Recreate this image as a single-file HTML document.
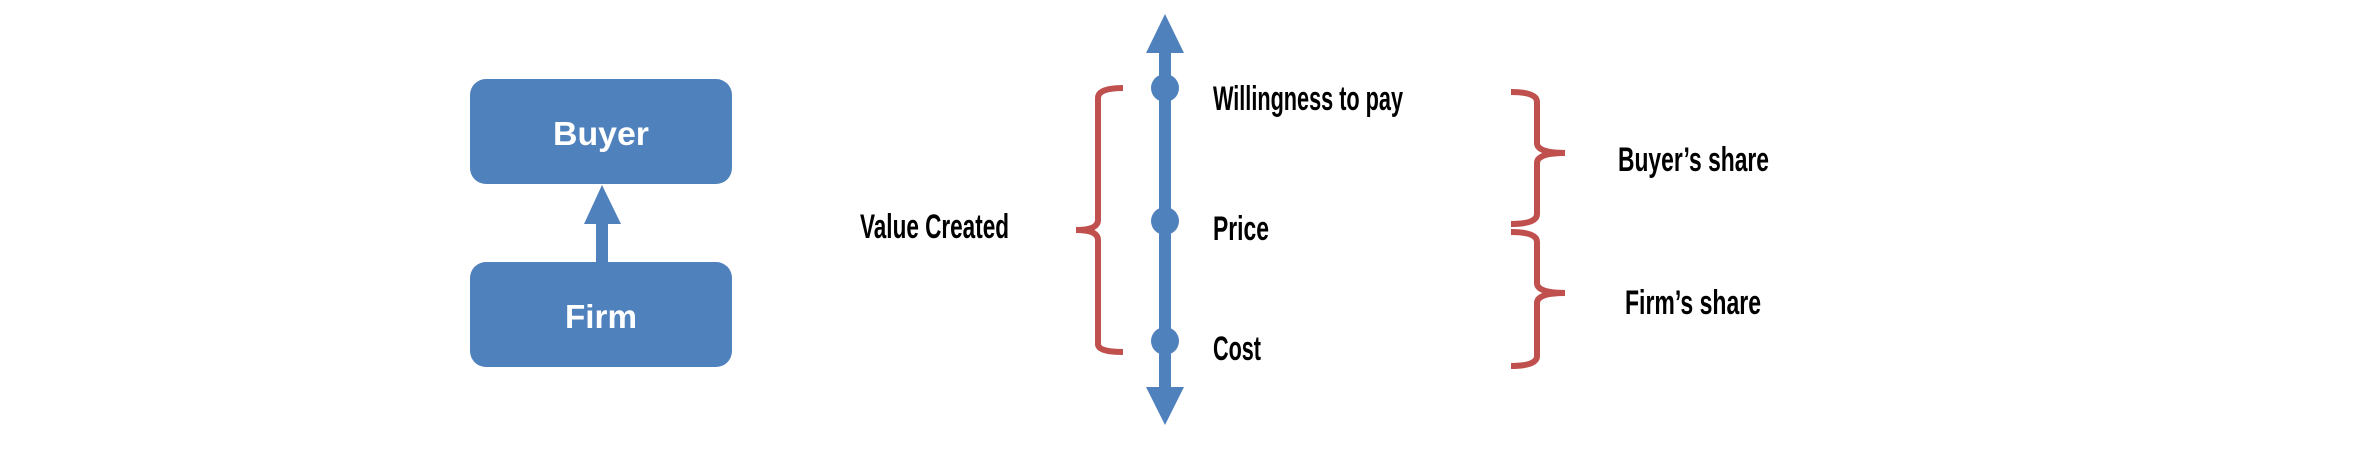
<!DOCTYPE html>
<html><head><meta charset="utf-8"><style>
html,body{margin:0;padding:0;background:#fff;width:2370px;height:450px;overflow:hidden}
svg text{font-family:"Liberation Sans Narrow","Liberation Sans",sans-serif;font-weight:bold}
</style></head><body>
<svg width="2370" height="450" viewBox="0 0 2370 450" xmlns="http://www.w3.org/2000/svg">
<g>
<rect x="470" y="79" width="262" height="105" rx="16" fill="#4f81bd"/>
<text x="601" y="145" fill="#fff" font-size="33" text-anchor="middle" textLength="96" lengthAdjust="spacingAndGlyphs">Buyer</text>
</g>
<g>
<rect x="470" y="262" width="262" height="105" rx="16" fill="#4f81bd"/>
<text x="601" y="328" fill="#fff" font-size="33" text-anchor="middle" textLength="72" lengthAdjust="spacingAndGlyphs">Firm</text>
</g>
<g>
<rect x="596" y="220" width="12" height="43" fill="#4f81bd"/>
<polygon points="602,185 584,224 621,224" fill="#4f81bd"/>
</g>
<g>
<rect x="1159" y="50" width="12" height="340" fill="#4f81bd"/>
<polygon points="1165,14 1146,53 1184,53" fill="#4f81bd"/>
<polygon points="1165,425 1146,387 1184,387" fill="#4f81bd"/>
<circle cx="1165" cy="88" r="14" fill="#4f81bd"/>
<circle cx="1165" cy="221" r="14" fill="#4f81bd"/>
<circle cx="1165" cy="341" r="14" fill="#4f81bd"/>
</g>
<text x="1213" y="110" font-size="34" textLength="190" lengthAdjust="spacingAndGlyphs">Willingness to pay</text>
<text x="1213" y="240" font-size="34" textLength="56" lengthAdjust="spacingAndGlyphs">Price</text>
<text x="1213" y="360" font-size="34" textLength="48" lengthAdjust="spacingAndGlyphs">Cost</text>
<text x="860" y="238" font-size="34" textLength="149" lengthAdjust="spacingAndGlyphs">Value Created</text>
<text x="1618" y="171" font-size="34" textLength="151" lengthAdjust="spacingAndGlyphs">Buyer’s share</text>
<text x="1625" y="314" font-size="34" textLength="136" lengthAdjust="spacingAndGlyphs">Firm’s share</text>
<g fill="none" stroke="#c0504d" stroke-width="6" stroke-linecap="butt">
<path d="M1123,88 Q1098,88 1098,98 L1098,220 Q1098,230 1076,230 Q1098,230 1098,240 L1098,344 Q1098,352 1123,352"/>
<path d="M1511,92 Q1537,92 1537,102 L1537,143 Q1537,153 1565,153 Q1537,153 1537,163 L1537,214 Q1537,224 1511,224"/>
<path d="M1511,232 Q1537,232 1537,242 L1537,283 Q1537,293 1565,293 Q1537,293 1537,303 L1537,356 Q1537,366 1511,366"/>
</g>
</svg>
</body></html>
